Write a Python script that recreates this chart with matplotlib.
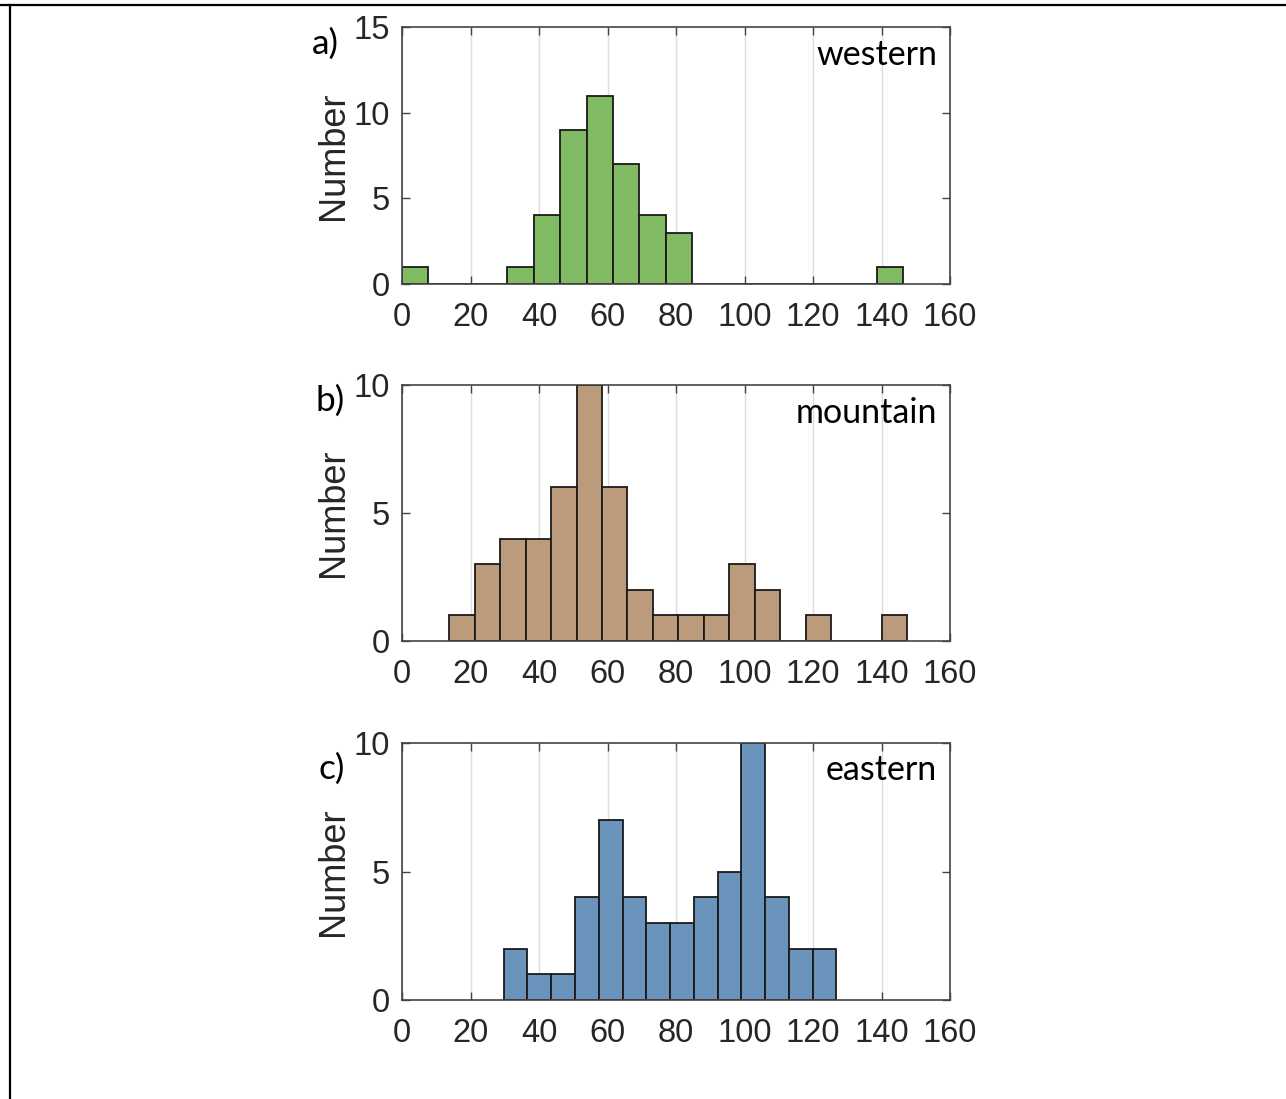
import matplotlib
matplotlib.use("Agg")
import matplotlib.pyplot as plt
from matplotlib.lines import Line2D

plt.rcParams["font.family"] = ["Liberation Sans", "DejaVu Sans"]

# histogram counts (bin start, bin width, counts)
western_start, western_width = 0.0, 7.7
western_counts = [1, 0, 0, 0, 1, 4, 9, 11, 7, 4, 3, 0, 0, 0, 0, 0, 0, 0, 1]

mountain_start, mountain_width = 13.8, 7.43
mountain_counts = [1, 3, 4, 4, 6, 10, 6, 2, 1, 1, 1, 3, 2, 0, 1, 0, 0, 1]

eastern_start, eastern_width = 29.7, 6.94
eastern_counts = [2, 1, 1, 4, 7, 4, 3, 3, 4, 5, 10, 4, 2, 2]

panel_letters = ["a)", "b)", "c)"]
region_names = ["western", "mountain", "eastern"]
y_max = [15, 10, 10]
x_ticks = [0, 20, 40, 60, 80, 100, 120, 140, 160]

W, H = 1286, 1099
fig = plt.figure(figsize=(W / 100, H / 100), dpi=100)


def px_axes(left, top, right, bottom):
    return fig.add_axes([left / W, 1 - bottom / H, (right - left) / W, (bottom - top) / H])


# page border lines (table cell edges)
fig.add_artist(Line2D([0, 1], [1 - 5 / H, 1 - 5 / H], color="black", lw=1.6,
                      transform=fig.transFigure))
fig.add_artist(Line2D([10 / W, 10 / W], [0, 1 - 5 / H], color="black", lw=1.6,
                      transform=fig.transFigure))

panels = [
    (western_start, western_width, western_counts, "#80BB63", (402, 27, 950, 284), 54),
    (mountain_start, mountain_width, mountain_counts, "#BC9B7D", (402, 385, 950, 641), 411),
    (eastern_start, eastern_width, eastern_counts, "#6B94BC", (402, 743, 950, 1000), 779),
]
letter_x = [312, 316, 318]
name_base = [65, 423, 780]

tick_col = "#262626"
for i, (start, width, counts, col, box, let_base) in enumerate(panels):
    ax = px_axes(*box)
    lefts = [start + width * k for k in range(len(counts))]
    ax.bar(lefts, counts, width=width, align="edge", color=col,
           edgecolor="#1a1a1a", linewidth=1.3, zorder=3)
    ax.set_xlim(0, 160)
    ax.set_ylim(0, y_max[i])
    ax.set_xticks(x_ticks)
    ax.set_yticks(list(range(0, y_max[i] + 1, 5)))
    ax.grid(axis="x", color="#dcdcdc", linewidth=1.0, zorder=0)
    ax.set_axisbelow(True)
    for s in ax.spines.values():
        s.set_color("#444444")
        s.set_linewidth(1.2)
        s.set_zorder(4)
    ax.tick_params(axis="both", direction="in", top=True, right=True, length=6,
                   width=1.0, color="#444444", labelcolor=tick_col, labelsize=23.5)
    ax.tick_params(axis="x", pad=13)
    ax.tick_params(axis="y", pad=9)
    ax.set_ylabel("Number", fontsize=26, color=tick_col)
    ax.yaxis.set_label_coords(-0.093, 0.5)

    fig.text(letter_x[i] / W, 1 - let_base / H, panel_letters[i], family="Lato",
             fontsize=25.5, ha="left", va="baseline", color="black")
    fig.text(937 / W, 1 - name_base[i] / H, region_names[i], family="Lato",
             fontsize=24.5, ha="right", va="baseline", color="black")

fig.savefig("out.png", dpi=100)
